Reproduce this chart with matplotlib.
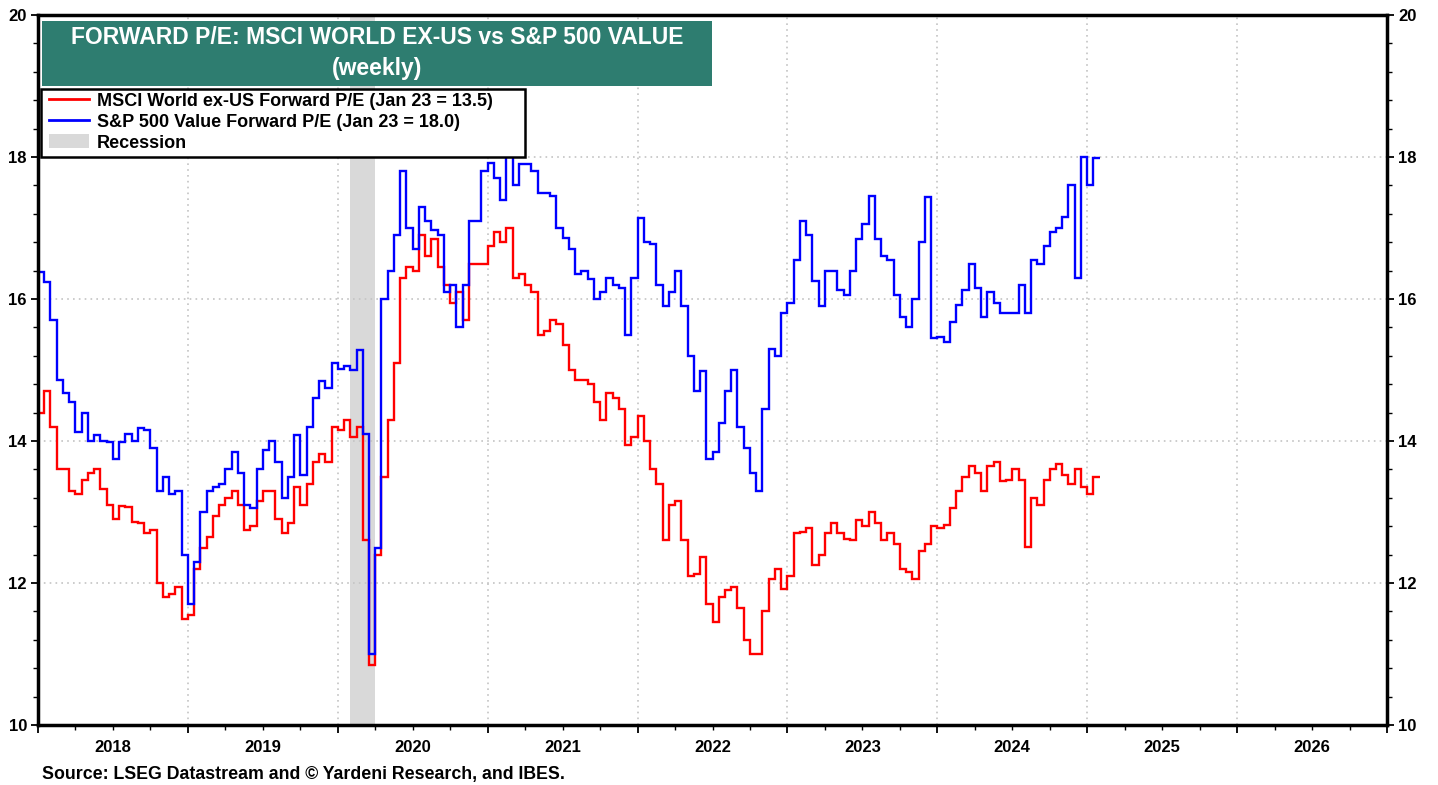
import matplotlib
matplotlib.use("Agg")
import matplotlib.pyplot as plt
import numpy as np
from matplotlib.patches import Rectangle, Patch
from matplotlib.lines import Line2D
from matplotlib.ticker import MultipleLocator, FixedLocator, NullFormatter, FuncFormatter

plt.rcParams['font.family'] = ['Liberation Sans', 'DejaVu Sans']
plt.rcParams['font.weight'] = 'bold'

# data: two readings per month, starting Jan 2018, last one = Jan 23 2025
start_year = 2018
steps_per_year = 24

msci_world_ex_us = [
    14.4, 14.7, 14.2, 13.6, 13.6, 13.3, 13.25, 13.45, 13.55, 13.6,
    13.32, 13.1, 12.9, 13.08, 13.07, 12.86, 12.85, 12.7, 12.75, 12.0,
    11.8, 11.85, 11.95, 11.5, 11.55, 12.2, 12.5, 12.65, 12.95, 13.1,
    13.2, 13.3, 13.1, 12.75, 12.8, 13.15, 13.3, 13.3, 12.9, 12.7,
    12.85, 13.35, 13.1, 13.4, 13.7, 13.82, 13.7, 14.2, 14.15, 14.3,
    14.05, 14.2, 12.6, 10.85, 12.4, 13.5, 14.3, 15.1, 16.3, 16.45,
    16.4, 16.9, 16.6, 16.85, 16.45, 16.2, 15.95, 16.1, 15.7, 16.5,
    16.5, 16.5, 16.75, 16.95, 16.8, 17.0, 16.3, 16.35, 16.2, 16.1,
    15.5, 15.55, 15.7, 15.65, 15.35, 15.0, 14.86, 14.86, 14.8, 14.55,
    14.3, 14.67, 14.6, 14.45, 13.95, 14.05, 14.35, 14.0, 13.6, 13.4,
    12.6, 13.1, 13.15, 12.6, 12.1, 12.12, 12.37, 11.7, 11.45, 11.8,
    11.9, 11.95, 11.65, 11.2, 11.0, 11.0, 11.6, 12.05, 12.2, 11.92,
    12.1, 12.7, 12.72, 12.78, 12.25, 12.4, 12.7, 12.85, 12.7, 12.62,
    12.6, 12.89, 12.8, 13.0, 12.85, 12.6, 12.7, 12.55, 12.2, 12.15,
    12.05, 12.45, 12.55, 12.8, 12.78, 12.82, 13.05, 13.3, 13.5, 13.65,
    13.55, 13.3, 13.65, 13.7, 13.43, 13.45, 13.6, 13.45, 12.51, 13.2,
    13.1, 13.45, 13.6, 13.68, 13.52, 13.4, 13.6, 13.35, 13.25, 13.5,
]

sp500_value = [
    16.38, 16.24, 15.7, 14.86, 14.68, 14.55, 14.12, 14.39, 14.0, 14.08,
    14.0, 13.99, 13.75, 13.98, 14.1, 14.0, 14.18, 14.16, 13.9, 13.3,
    13.5, 13.25, 13.3, 12.4, 11.7, 12.3, 13.0, 13.3, 13.35, 13.4,
    13.6, 13.85, 13.55, 13.1, 13.05, 13.6, 13.88, 14.0, 13.7, 13.2,
    13.5, 14.08, 13.52, 14.2, 14.6, 14.85, 14.75, 15.1, 15.02, 15.05,
    15.0, 15.28, 14.1, 11.0, 12.5, 16.0, 16.4, 16.9, 17.8, 17.0,
    16.7, 17.3, 17.1, 16.97, 16.9, 16.1, 16.2, 15.6, 16.2, 17.1,
    17.1, 17.8, 17.92, 17.7, 17.4, 18.1, 17.6, 17.9, 17.9, 17.8,
    17.5, 17.5, 17.45, 17.0, 16.86, 16.7, 16.35, 16.4, 16.28, 16.0,
    16.1, 16.3, 16.2, 16.15, 15.5, 16.3, 17.14, 16.8, 16.78, 16.2,
    15.9, 16.1, 16.4, 15.9, 15.2, 14.7, 14.98, 13.75, 13.85, 14.25,
    14.7, 15.0, 14.2, 13.9, 13.55, 13.3, 14.45, 15.3, 15.2, 15.8,
    15.95, 16.55, 17.1, 16.9, 16.25, 15.9, 16.4, 16.4, 16.12, 16.05,
    16.4, 16.84, 17.05, 17.45, 16.85, 16.6, 16.55, 16.05, 15.75, 15.6,
    16.0, 16.8, 17.44, 15.45, 15.47, 15.4, 15.68, 15.92, 16.12, 16.5,
    16.15, 15.75, 16.1, 15.95, 15.8, 15.8, 15.8, 16.2, 15.8, 16.55,
    16.5, 16.75, 16.95, 17.0, 17.15, 17.6, 16.3, 18.0, 17.6, 17.98,
]

recession = (2020 + 1 / 12, 2020 + 3 / 12)
year_ticks = list(range(2018, 2028))

title_lines = ["FORWARD P/E: MSCI WORLD EX-US vs S&P 500 VALUE", "(weekly)"]
legend_labels = ["MSCI World ex-US Forward P/E (Jan 23 = 13.5)",
                 "S&P 500 Value Forward P/E (Jan 23 = 18.0)",
                 "Recession"]
source_text = "Source: LSEG Datastream and \u00a9 Yardeni Research, and IBES."

red = '#ff0000'
blue = '#0000ff'
grey = '#d9d9d9'
teal = '#2e7d70'

W, H = 1438, 785
edges = start_year + np.arange(len(sp500_value) + 1) / steps_per_year

fig = plt.figure(figsize=(W / 100, H / 100), dpi=100)
ax = fig.add_axes([38 / W, 60 / H, 1349 / W, 710 / H])

ax.axvspan(*recession, color=grey, lw=0, zorder=1)
ax.stairs(msci_world_ex_us, edges, baseline=None, color=red, lw=1.7, zorder=3)
ax.stairs(sp500_value, edges, baseline=None, color=blue, lw=1.7, zorder=3)

ax.set_xlim(2018, 2027)
ax.set_ylim(10, 20)

# axes / ticks
ax.xaxis.set_major_locator(FixedLocator(year_ticks))
ax.xaxis.set_major_formatter(NullFormatter())
ax.xaxis.set_minor_locator(MultipleLocator(0.25))
ax.xaxis.set_minor_formatter(FuncFormatter(
    lambda v, p: str(int(v)) if abs(v % 1 - 0.5) < 1e-6 else ''))
ax.yaxis.set_major_locator(MultipleLocator(2))
ax.yaxis.set_minor_locator(MultipleLocator(0.4))

ax.tick_params(axis='x', which='major', direction='out', length=6, width=1.3)
ax.tick_params(axis='x', which='minor', direction='out', length=3.5, width=1,
               pad=7, labelsize=12)
ax.tick_params(axis='y', which='major', direction='out', length=5, width=1.3,
               labelsize=12, pad=3, left=True, right=True,
               labelleft=True, labelright=True)
ax.tick_params(axis='y', which='minor', direction='out', length=3.5, width=1,
               left=True, right=True)
for lab in ax.get_xticklabels(minor=True) + ax.get_yticklabels():
    lab.set_fontweight('bold')

for s in ax.spines.values():
    s.set_linewidth(2.5)
    s.set_zorder(6)

ax.grid(True, which='major', axis='both', linestyle=(0, (1, 2.5)),
        color='#c4c4c4', lw=1.2, zorder=0)

# legend box (covers anything above 18)
ax.add_patch(Rectangle((41 / W, 1 - 157 / H), 484 / W, 68 / H,
                       transform=fig.transFigure, facecolor='white',
                       edgecolor='black', lw=1.8, zorder=7, clip_on=False))
handles = [Line2D([], [], color=red, lw=2),
           Line2D([], [], color=blue, lw=2),
           Patch(facecolor=grey, edgecolor='none')]
leg = ax.legend(handles, legend_labels, loc='upper left',
                bbox_to_anchor=(47 / W, 1 - 91 / H),
                bbox_transform=fig.transFigure, frameon=False,
                prop={'weight': 'bold', 'size': 13}, borderpad=0.1,
                labelspacing=0.2, handlelength=2.2, handleheight=0.8,
                handletextpad=0.45, borderaxespad=0)
leg.set_zorder(8)

# title box
fig.patches.append(Rectangle((42 / W, 1 - 86 / H), 670 / W, 65 / H,
                             transform=fig.transFigure, facecolor=teal,
                             edgecolor='none', zorder=5))
fig.text(377 / W, 1 - 38 / H, title_lines[0], color='white', fontsize=16.5,
         fontweight='bold', ha='center', va='center', zorder=6)
fig.text(377 / W, 1 - 68 / H, title_lines[1], color='white', fontsize=16.5,
         fontweight='bold', ha='center', va='center', zorder=6)

fig.text(42 / W, 1 - 775 / H, source_text, fontsize=12.8, fontweight='bold',
         ha='left', va='center')

fig.savefig('out.png', dpi=100)
